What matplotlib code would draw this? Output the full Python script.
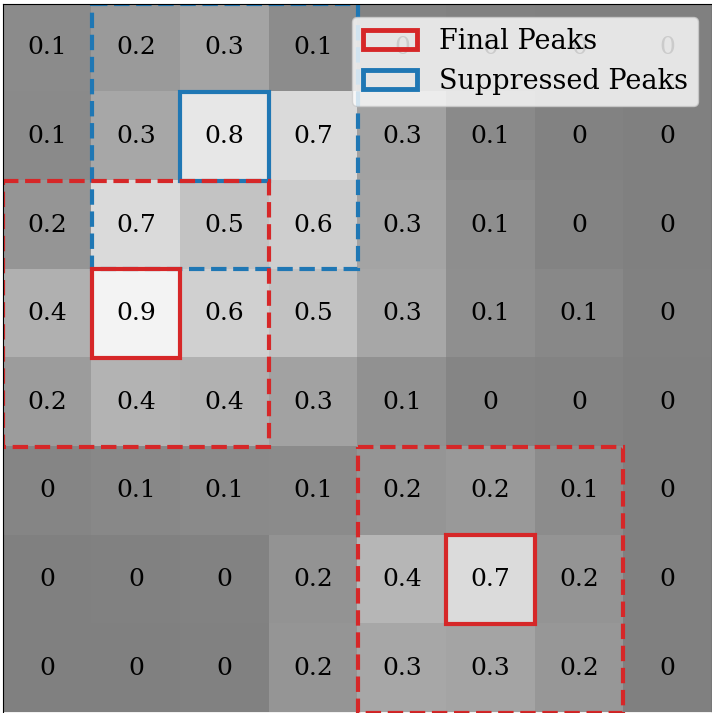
import matplotlib
matplotlib.use('Agg')
import matplotlib.pyplot as plt
import matplotlib.patches as patches
import numpy as np

### Data ####################################################
scores = np.array([
    [0.09, 0.21, 0.29, 0.10, 0.03, 0.01, 0.00, 0.00],
    [0.08, 0.31, 0.81, 0.71, 0.27, 0.08, 0.02, 0.00],
    [0.17, 0.71, 0.53, 0.62, 0.29, 0.11, 0.03, 0.00],
    [0.38, 0.91, 0.63, 0.52, 0.31, 0.12, 0.07, 0.01],
    [0.22, 0.41, 0.39, 0.27, 0.14, 0.04, 0.03, 0.00],
    [0.04, 0.07, 0.08, 0.09, 0.17, 0.20, 0.10, 0.00],
    [0.00, 0.01, 0.02, 0.15, 0.43, 0.72, 0.16, 0.00],
    [0.00, 0.00, 0.01, 0.17, 0.31, 0.29, 0.18, 0.00],
])
final_peaks = [(3, 1), (6, 5)]        # (row, col)
suppressed_peaks = [(1, 2)]
window = 1                             # half-size of suppression window
#############################################################

plt.rcParams['font.family'] = 'serif'
red = '#d62728'
blue = '#1f77b4'

fig = plt.figure(figsize=(7.12, 7.13), dpi=100)
ax = fig.add_axes([3 / 712, 0.0, 709 / 712, 710 / 713])
ax.imshow(scores, cmap='gray', vmin=0, vmax=1, alpha=0.5)

for i in range(scores.shape[0]):
    for j in range(scores.shape[1]):
        ax.text(j, i, '%g' % np.round(scores[i, j], 1), ha='center', va='center', fontsize=18)


def draw_peak(r, c, color):
    ax.add_patch(patches.Rectangle((c - 0.5, r - 0.5), 1, 1, fill=False, edgecolor=color, linewidth=3))
    ax.add_patch(patches.Rectangle((c - 0.5 - window, r - 0.5 - window), 2 * window + 1, 2 * window + 1,
                                   fill=False, edgecolor=color, linewidth=3, linestyle='--'))


for r, c in suppressed_peaks:
    draw_peak(r, c, blue)
for r, c in final_peaks:
    draw_peak(r, c, red)

ax.set_xticks([])
ax.set_yticks([])
handles = [patches.Patch(facecolor='none', edgecolor=red, linewidth=3.5, label='Final Peaks'),
           patches.Patch(facecolor='none', edgecolor=blue, linewidth=3.5, label='Suppressed Peaks')]
ax.legend(handles=handles, loc='upper right', fontsize=19.5, borderaxespad=0.5)
ax.set_xlim(-0.5, 7.5)
ax.set_ylim(7.5, -0.5)

fig.savefig('out.png', dpi=100)
plt.close()
